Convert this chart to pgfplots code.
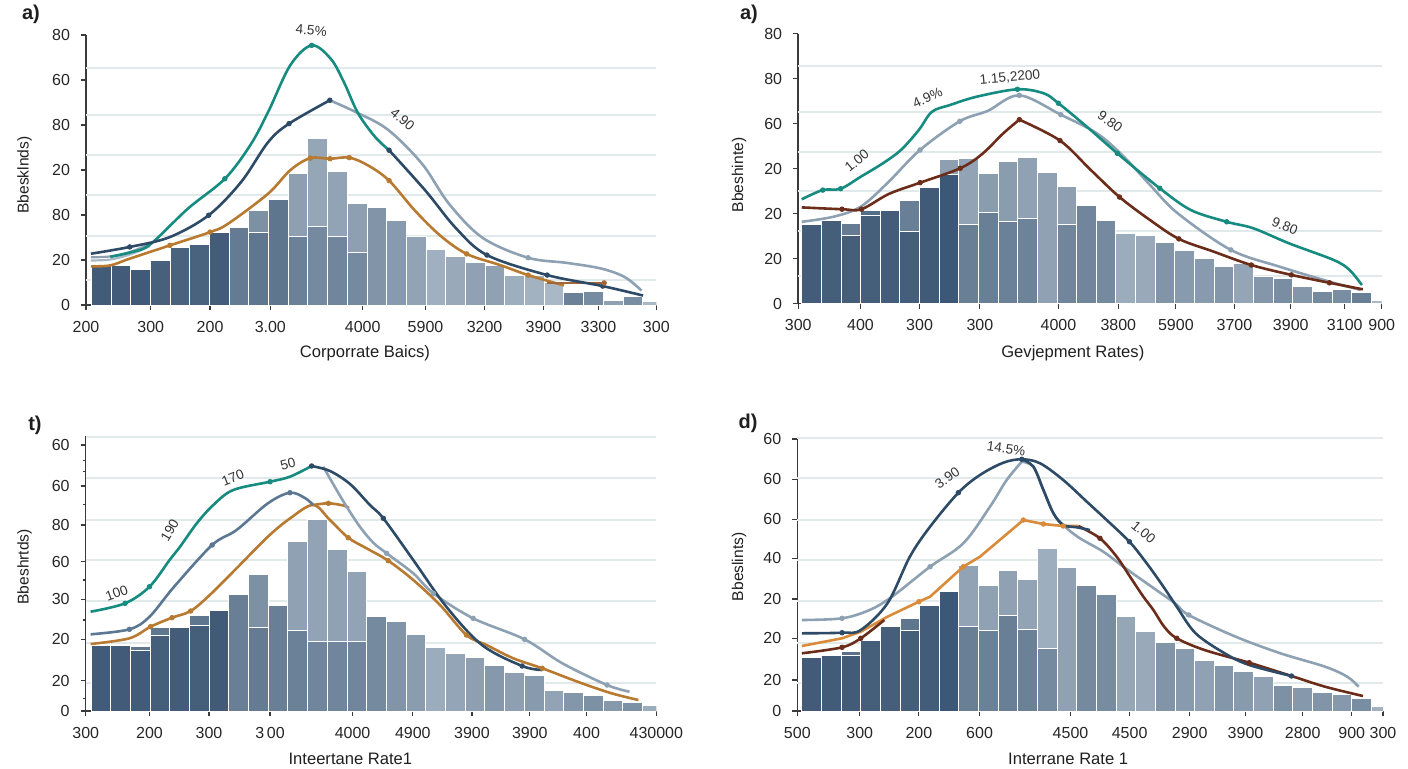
\documentclass[border=0pt]{standalone}
\usepackage{pgfplots}
\pgfplotsset{compat=1.18}
\usepackage{fontspec}
\setmainfont{Liberation Sans}
\definecolor{barD}{HTML}{3B5674}
\definecolor{barL}{HTML}{B3C1CE}
\definecolor{tealc}{HTML}{168B7F}
\definecolor{navyc}{HTML}{2D4A66}
\definecolor{grayc}{HTML}{8DA1B3}
\definecolor{lgrayc}{HTML}{A9B8C6}
\definecolor{orangec}{HTML}{B87A30}
\definecolor{orangeb}{HTML}{D98B3A}
\definecolor{brownc}{HTML}{6B2D1A}
\definecolor{brownl}{HTML}{A0663A}
\definecolor{slatec}{HTML}{5B7792}
\definecolor{gridc}{HTML}{E1E9EA}
\definecolor{axc}{HTML}{3A3A3A}

\newcommand{\drawbars}[1]{%
  \foreach \bi/\bh/\bl/\bc/\bd in {#1}{%
    \pgfmathsetmacro{\bj}{\bi+1}%
    \edef\tmp{\noexpand\addplot[draw=white, line width=0.5pt, fill=barL!\bc!barD] coordinates {(\bi,0) (\bi,\bh) (\bj,\bh) (\bj,0)} \noexpand\closedcycle;}\tmp
    \ifdim\bl pt>0pt
      \edef\tmp{\noexpand\addplot[draw=white, line width=0.5pt, fill=barL!\bd!barD] coordinates {(\bi,0) (\bi,\bl) (\bj,\bl) (\bj,0)} \noexpand\closedcycle;}\tmp
    \fi
  }%
}

\pgfplotsset{
  panel/.style={
    scale only axis, anchor=south west,
    clip mode=individual,
    axis lines*=left,
    axis line style={axc, line width=0.75pt},
    every tick/.style={axc, line width=0.6pt},
    major tick length=2.5pt, minor tick length=1.5pt, tick align=outside,
    ticklabel style={font=\fontsize{8}{9}\selectfont, text=black!85},
    yticklabel style={xshift=-2pt},
    xticklabel style={yshift=-2pt},
    ymin=0,
    extra y tick labels={},
    extra y tick style={grid=major, major grid style={gridc, line width=1pt}, major tick length=0pt},
  },
  crv/.style={line width=1.3pt, smooth, tension=0.55},
  mk/.style={only marks, mark=*, mark size=1.15pt},
}
\tikzset{lbl/.style={font=\fontsize{6.8}{7}\selectfont, text=black!80, inner sep=0pt}}

\begin{document}
\begin{tikzpicture}
\path[use as bounding box] (0,0) rectangle (704pt,384pt);

% ---------------- Panel a (top left)
\begin{axis}[panel, at={(43pt,231.5pt)}, width=285.15pt, height=135pt,
  xmin=-0.27, xmax=28.69, ymax=120,
  xtick={-0.27,3.02,6.03,9.09,13.78,16.97,19.97,22.96,25.75,28.69},
  xticklabels={200,300,200,3.00,4000,5900,3200,3900,3300,300},
  ytick={0,20,40,60,80,100,120},
  yticklabels={0,20,80,20,80,60,80},
  extra y ticks={11,30.5,49,66.5,84.5,105.3}]
\drawbars{0/17.5/0/5/0, 1/17.5/0/5/0, 2/15.7/0/4/0, 3/19.9/0/10/0, 4/25.4/0/12/0,
  5/26.9/0/12/0, 6/32.4/0/6/0, 7/34.4/0/35/0, 8/42/32.4/55/30, 9/47.1/0/30/0,
  10/58.5/30.6/68/40, 11/74.2/35/75/48, 12/59.5/30.6/72/45, 13/45.3/23.2/68/48,
  14/43.5/0/58/0, 15/37.4/0/64/0, 16/30.6/0/72/0, 17/24.6/0/84/0, 18/21.7/0/78/0,
  19/19/0/70/0, 20/17.5/0/70/0, 21/13.2/0/82/0, 22/13.2/0/86/0, 23/10.1/0/92/0,
  24/5.6/0/40/0, 25/6.2/0/50/0, 26/2.2/0/70/0, 27/3.9/0/52/0, 28/1.5/0/92/0}
\addplot[lgrayc, crv, line width=1.1pt] coordinates {(-0.02,19.8) (0.96,20.2) (1.98,22.5) (2.99,26.2)};
\addplot[grayc, crv, line width=1.1pt] coordinates {(-0.02,21.2) (0.96,21.6) (1.98,23.6) (2.99,27.2)};
\addplot[orangec, crv] coordinates {(-0.02,17.2) (0.96,17.6) (1.95,20.6) (3.99,26.5) (6.03,32.4) (6.94,36.1) (8.98,49.5) (10.1,59.9) (11.12,65.3) (12.12,65.0) (13.1,65.5) (14.06,62.0) (15.12,55.3) (16.45,41.8) (17.74,30.7) (19.06,22.7) (20.74,17.8) (22.18,13.3) (24.0,8.7)};
\addplot[brownl, line width=1pt] coordinates {(23.15,9.8) (26.04,9.8)};
\addplot[grayc, crv] coordinates {(12.11,91.0) (13.54,85.3) (15.08,77.8) (16.8,62.7) (18.17,44.9) (19.88,29.8) (22.18,21.0) (24.16,18.7) (25.89,16.2) (27.09,12.4) (27.94,6.4)};
\addplot[tealc, crv] coordinates {(0.96,21.4) (1.98,23.4) (2.97,26.8) (4.9,42.8) (6.78,56.1) (8.07,71.0) (8.98,85.8) (10.1,106.5) (11.19,115.4) (12.17,109.3) (12.84,98.8) (13.54,85.3) (14.4,74.8) (15.12,68.8)};
\addplot[navyc, crv] coordinates {(-0.02,22.8) (1.95,25.8) (3.99,30.2) (5.96,39.9) (7.61,54.7) (8.98,72.4) (10.04,80.6) (12.11,91.0)};
\addplot[navyc, crv] coordinates {(15.12,68.8) (16.97,50.8) (18.51,34.2) (20.09,22.2) (23.15,13.3) (25.97,8.4) (28.02,4.2)};
\addplot[mk, tealc] coordinates {(6.78,56.1) (11.19,115.4)};
\addplot[mk, navyc] coordinates {(1.95,25.8) (5.96,39.9) (10.04,80.6) (12.11,91.0) (15.12,68.8) (20.09,22.2) (23.15,13.3) (25.97,8.4)};
\addplot[mk, grayc] coordinates {(22.18,21.0)};
\addplot[mk, orangec] coordinates {(3.99,26.5) (6.03,32.4) (11.12,65.3) (12.12,65.0) (13.1,65.5) (15.12,55.3) (19.06,22.7) (22.18,13.3)};
\addplot[mk, brownl] coordinates {(26.04,9.8)};
\node[lbl, rotate=-5] at (axis cs:11.17,122) {4.5\%};
\node[lbl, rotate=-40] at (axis cs:15.8,82.5) {4.90};
\end{axis}

% ---------------- Panel b (top right)
\begin{axis}[panel, at={(399.1pt,232.15pt)}, width=291.75pt, height=135pt,
  xmin=-0.18, xmax=29.53, ymax=120,
  xtick={-0.18,2.99,6.0,9.07,13.07,16.12,19.05,22.03,24.9,27.65,29.53},
  xticklabels={300,400,300,300,4000,3800,5900,3700,3900,3100,900},
  ytick={0,20,40,60,80,100,120},
  yticklabels={0,20,20,20,60,80,80},
  extra y ticks={12.3,32.3,50.2,67.5,85.3,105.5}]
\drawbars{0/35.0/0/6/0, 1/36.8/0/8/0, 2/35.5/30.3/35/8, 3/41.5/39.0/22/8, 4/41.3/0/6/0,
  5/46.0/32.3/38/8, 6/51.6/0/4/0, 7/64.2/57.4/68/2, 8/64.5/35.2/72/38, 9/57.7/40.5/66/38,
  10/63/36.5/66/40, 11/64.8/37.8/70/42, 12/58.4/0/70/0, 13/52/35/68/45, 14/43.7/0/45/0,
  15/36.8/0/48/0, 16/31.3/0/80/0, 17/30.4/0/78/0, 18/27.3/0/58/0, 19/23.6/0/64/0,
  20/19.9/0/64/0, 21/16.5/0/60/0, 22/18.0/0/74/0, 23/12.3/0/60/0, 24/11.0/0/52/0,
  25/7.6/0/60/0, 26/5.6/0/48/0, 27/6.1/0/52/0, 28/4.9/0/38/0, 29/1.6/0/92/0}
\addplot[grayc, crv] coordinates {(0,36.4) (1.64,38.7) (3.0,43.1) (4.36,53.6) (6.02,68.3) (8.05,81.1) (9.47,85.7) (11.08,92.6) (13.19,84.0) (15.03,75.7) (16.37,65.6) (17.73,52.8) (19.14,40.2) (21.85,23.9) (24.35,16.4) (26.87,9.8) (28.46,6.1)};
\addplot[tealc, crv] coordinates {(0,46.4) (1.07,50.5) (1.98,51.1) (3.0,56.4) (4.13,62.4) (5.05,68.3) (5.96,77.2) (6.63,85.3) (7.55,88.3) (8.91,92.0) (10.98,95.3) (12.32,93.5) (13.07,89.1) (14.59,78.1) (16.07,66.8) (18.23,51.3) (19.82,41.6) (21.64,36.4) (23.0,33.5) (24.82,26.8) (27.09,19.4) (27.89,15.0) (28.52,8.3)};
\addplot[brownc, crv] coordinates {(0,42.8) (2.05,42.0) (3.04,42.0) (4.44,48.8) (6.03,53.8) (8.07,60.2) (9.18,66.5) (10.26,75.7) (11.08,81.8)};
\addplot[brownc, crv] coordinates {(11.08,81.8) (13.15,72.5) (14.72,59.4) (16.18,47.4) (17.73,37.2) (19.2,28.8) (20.89,23.4) (22.89,17.2) (24.93,12.8) (26.87,9.3) (28.57,6.4)};
\addplot[mk, tealc] coordinates {(1.07,50.5) (1.98,51.1) (10.98,95.3) (13.07,89.1) (16.07,66.8) (18.23,51.3) (21.64,36.4)};
\addplot[mk, grayc] coordinates {(6.02,68.3) (8.05,81.1) (11.08,92.6) (13.19,84.0) (21.85,23.9)};
\addplot[mk, brownc] coordinates {(2.05,42) (3.04,42) (6.03,53.8) (8.07,60.2) (11.08,81.8) (13.15,72.5) (16.18,47.4) (19.2,28.8) (22.89,17.2) (24.93,12.8) (26.87,9.3)};
\node[lbl, rotate=40] at (axis cs:2.8,63.5) {1.00};
\node[lbl, rotate=25] at (axis cs:6.4,91.5) {4.9\%};
\node[lbl, rotate=5] at (axis cs:10.6,100.5) {1.15,2200};
\node[lbl, rotate=-35] at (axis cs:15.7,81) {9.80};
\node[lbl, rotate=-22] at (axis cs:24.6,34.5) {9.80};
\end{axis}

% ---------------- Panel c (bottom left)
\begin{axis}[panel, at={(42.85pt,28.5pt)}, width=285.3pt, height=137.5pt,
  xmin=-0.27, xmax=28.7, ymax=275,
  xtick={-0.27,2.97,5.99,9.09,13.28,16.34,19.34,22.28,25.16,28.7},
  xticklabels={300,200,300,3\,00,4000,4900,3900,3900,400,430000},
  ytick={0,30.3,71.7,111.7,149.3,186,225,266},
  yticklabels={0,20,20,30,60,80,60,60},
  minor ytick={12.7,91,131,206.7,239.3,250.3},
  extra y ticks={28.3,68.3,110.3,151,191,232.7,274.3}]
\drawbars{0/65.7/0/5/0, 1/66/0/5/0, 2/64.3/60.3/30/5, 3/83.3/76/30/8, 4/84/0/6/0,
  5/95.7/86/30/8, 6/101/0/4/0, 7/116.3/0/38/0, 8/137/83.3/55/35, 9/105.7/0/38/0,
  10/169.3/80.3/70/40, 11/191.7/69.3/72/45, 12/161.7/70/70/45, 13/139.3/70/72/45,
  14/94.3/0/48/0, 15/89.3/0/58/0, 16/77/0/66/0, 17/63.3/0/80/0, 18/57.7/0/74/0,
  19/53.3/0/68/0, 20/45.7/0/62/0, 21/39/0/68/0, 22/35.7/0/64/0, 23/21/0/72/0,
  24/18.3/0/60/0, 25/15.7/0/55/0, 26/11/0/62/0, 27/8.7/0/55/0, 28/5.3/0/80/0}
\addplot[orangec, crv] coordinates {(-0.02,67) (1.95,72.7) (3.02,84.3) (4.11,93.3) (5.06,100) (6.03,116) (7.39,142.7) (8.98,174.3) (10.11,192.7) (11.28,206) (12.13,191) (13.06,173.3) (13.99,162.7) (15.09,150.3) (16.36,131) (17.72,106) (19.06,76) (20.08,66) (21.44,52.7) (22.91,42.7) (24.84,28.3) (26.43,17.7) (27.79,11)};
\addplot[orangec, crv] coordinates {(11.28,206) (12.05,207.7) (12.81,205.5) (13.1,203)};
\addplot[grayc, crv] coordinates {(11.79,244.3) (12.47,221) (12.98,204.3) (13.65,184.3) (14.33,168.3) (15.01,157.7) (16.36,137.7) (17.38,117.7) (19.4,92.7) (22.01,71.7) (23.93,47.7) (26.2,26) (27.34,19.3)};
\addplot[slatec, crv] coordinates {(-0.02,76.7) (1.95,81.7) (2.97,94.3) (4.22,124.3) (6.15,166) (7.39,181) (8.98,207.7) (10.1,218.3) (10.86,213) (11.28,206)};
\addplot[tealc, crv] coordinates {(-0.02,99.3) (1.73,107.7) (2.97,124.3) (3.99,151) (4.52,164.3) (5.37,187.7) (6.21,206) (7.22,221) (9.09,229.3) (10.1,234.3) (11.2,245)};
\addplot[navyc, crv] coordinates {(11.2,245) (12.13,240) (13.15,227) (14.16,206) (14.84,192.7) (16.36,151) (18.04,104.3) (19.85,66) (21.89,45) (22.91,41)};
\addplot[mk, tealc] coordinates {(1.73,107.7) (2.97,124.3) (9.09,229.3)};
\addplot[mk, navyc] coordinates {(11.2,245) (14.84,192.7) (21.89,45)};
\addplot[mk, slatec] coordinates {(1.95,81.7) (6.15,166) (10.1,218.3)};
\addplot[mk, grayc] coordinates {(15.01,157.7) (17.38,117.7) (19.4,92.7) (22.01,71.7) (26.2,26)};
\addplot[mk, orangec] coordinates {(3.02,84.3) (4.11,93.3) (5.06,100) (12.05,207.7) (13.06,173.3) (15.09,150.3) (19.06,76) (22.91,42.7)};
\node[lbl, rotate=20] at (axis cs:1.3,118) {100};
\node[lbl, rotate=60] at (axis cs:4.0,181) {190};
\node[lbl, rotate=22] at (axis cs:7.2,233) {170};
\node[lbl, rotate=15] at (axis cs:10.0,247) {50};
\end{axis}

% ---------------- Panel d (bottom right)
\begin{axis}[panel, at={(398.65pt,28.5pt)}, width=292.85pt, height=137pt,
  xmin=-0.23, xmax=29.59, ymax=274,
  xtick={-0.23,2.95,5.96,9.05,13.68,16.69,19.75,22.59,25.5,28.0,29.59},
  xticklabels={500,300,200,600,4500,4500,2900,3900,2800,900,300},
  ytick={0,31,72.7,112,152.7,191.7,231.7,272},
  yticklabels={0,20,20,20,40,60,60,60},
  extra y ticks={27.7,67.7,110,151,191,232.7,273.3}]
\drawbars{0/53.7/0/5/0, 1/55.3/0/5/0, 2/60/56/25/5, 3/70.3/0/8/0, 4/84.3/0/8/0,
  5/92.3/80.3/30/8, 6/105.3/0/6/0, 7/119.7/0/2/0, 8/145.3/84.3/72/38, 9/125.3/80.3/70/40,
  10/141/96/70/38, 11/132/81.7/72/40, 12/162.3/62.7/82/48, 13/143.3/0/70/0, 14/126/0/48/0,
  15/117/0/50/0, 16/94.3/0/75/0, 17/80/0/78/0, 18/68.3/0/58/0, 19/62.7/0/64/0,
  20/51/0/70/0, 21/46/0/60/0, 22/40/0/64/0, 23/34.3/0/70/0, 24/25.3/0/55/0,
  25/23.3/0/62/0, 26/18.7/0/58/0, 27/16.7/0/62/0, 28/12.3/0/52/0, 29/5/0/85/0}
\addplot[grayc, crv] coordinates {(0,91) (2.05,92.7) (3.45,101) (4.59,114.3) (6.53,144.3) (8.22,167.7) (9.58,204.3) (10.43,231) (11.2,249.3)};
\addplot[grayc, crv] coordinates {(11.2,249.3) (11.79,244.3) (12.3,221) (12.81,197.7) (13.31,186) (14.08,173.7) (15.35,159.3) (16.37,144.3) (17.56,127.7) (19.0,107.7) (19.7,96) (22.09,74.3) (24.37,57.7) (26.64,44.3) (27.77,34.3) (28.35,24.3)};
\addplot[orangeb, line width=1.3pt] coordinates {(0,65) (2.05,72.7) (3.0,79.3) (4.36,94.3) (5.96,109.3) (6.53,114.3) (8.22,144.3) (9.07,154.3) (11.28,191) (12.3,187) (13.31,185) (14.08,185)};
\addplot[brownc, crv] coordinates {(0,57.7) (2.05,63.7) (3.0,72.7) (4.2,91)};
\addplot[brownc, crv] coordinates {(14.08,185) (15.18,172.7) (16.03,154.3) (16.71,134.3) (17.39,114.3) (17.9,101) (18.46,84) (19.09,72.7) (20.5,61) (22.78,48.3) (24.93,35) (26.64,24.3) (28.57,15)};
\addplot[navyc, crv] coordinates {(11.2,251.7) (11.79,244.3) (12.3,221) (12.81,197.7) (13.31,186) (14.0,183.7) (14.67,181)};
\addplot[navyc, crv] coordinates {(0,77.7) (2.05,78.3) (3.0,81) (4.36,107.7) (5.5,154.3) (6.53,184.3) (7.97,218.3) (9.07,236) (10.26,248.3) (11.2,251.7) (12.13,247.7) (13.31,231) (14.51,209.3) (15.52,191) (16.68,169.3) (17.56,147.7) (18.41,124.3) (19.09,104.3) (20.05,77.7) (21.53,57.7) (22.78,46) (24.93,35)};
\addplot[mk, navyc] coordinates {(2.05,78.3) (7.97,218.3) (11.2,251.7) (16.68,169.3) (24.93,35)};
\addplot[mk, grayc] coordinates {(2.05,92.7) (6.53,144.3) (19.7,96)};
\addplot[mk, orangeb] coordinates {(5.96,109.3) (8.22,144.3) (11.28,191) (12.3,187) (13.31,185)};
\addplot[mk, brownc] coordinates {(2.05,63.7) (3.0,72.7) (15.18,172.7) (19.09,72.7) (22.78,48.3)};
\node[lbl, rotate=35] at (axis cs:7.4,233) {3.90};
\node[lbl, rotate=-8] at (axis cs:10.4,262.5) {14.5\%};
\node[lbl, rotate=-40] at (axis cs:17.4,179) {1.00};
\end{axis}

% ---------------- Outer texts
\begin{scope}[every node/.style={inner sep=0pt, text=black!88}]
\node[font=\bfseries\fontsize{10}{12}\selectfont] at (15.5pt,377pt) {a)};
\node[font=\bfseries\fontsize{10}{12}\selectfont] at (374.5pt,377pt) {a)};
\node[font=\bfseries\fontsize{10}{12}\selectfont] at (17.5pt,171.5pt) {t)};
\node[font=\bfseries\fontsize{10}{12}\selectfont] at (374pt,172.3pt) {d)};
\node[font=\fontsize{8.3}{10}\selectfont] at (182.5pt,207.6pt) {Corporrate Baics)};
\node[font=\fontsize{8.3}{10}\selectfont] at (536.4pt,207.6pt) {Gevjepment Rates)};
\node[font=\fontsize{8.3}{10}\selectfont] at (175.2pt,4.6pt) {Inteertane Rate1};
\node[font=\fontsize{8.3}{10}\selectfont] at (534.1pt,4.6pt) {Interrane Rate 1};
\node[font=\fontsize{7.8}{9}\selectfont, rotate=90] at (12.3pt,296.5pt) {Bbesklnds)};
\node[font=\fontsize{7.8}{9}\selectfont, rotate=90] at (369.6pt,296.5pt) {Bbeshinte)};
\node[font=\fontsize{7.8}{9}\selectfont, rotate=90] at (12.3pt,100.6pt) {Bbeshrtds)};
\node[font=\fontsize{7.8}{9}\selectfont, rotate=90] at (369.6pt,100.6pt) {Bbeslints)};
\end{scope}
\end{tikzpicture}
\end{document}
